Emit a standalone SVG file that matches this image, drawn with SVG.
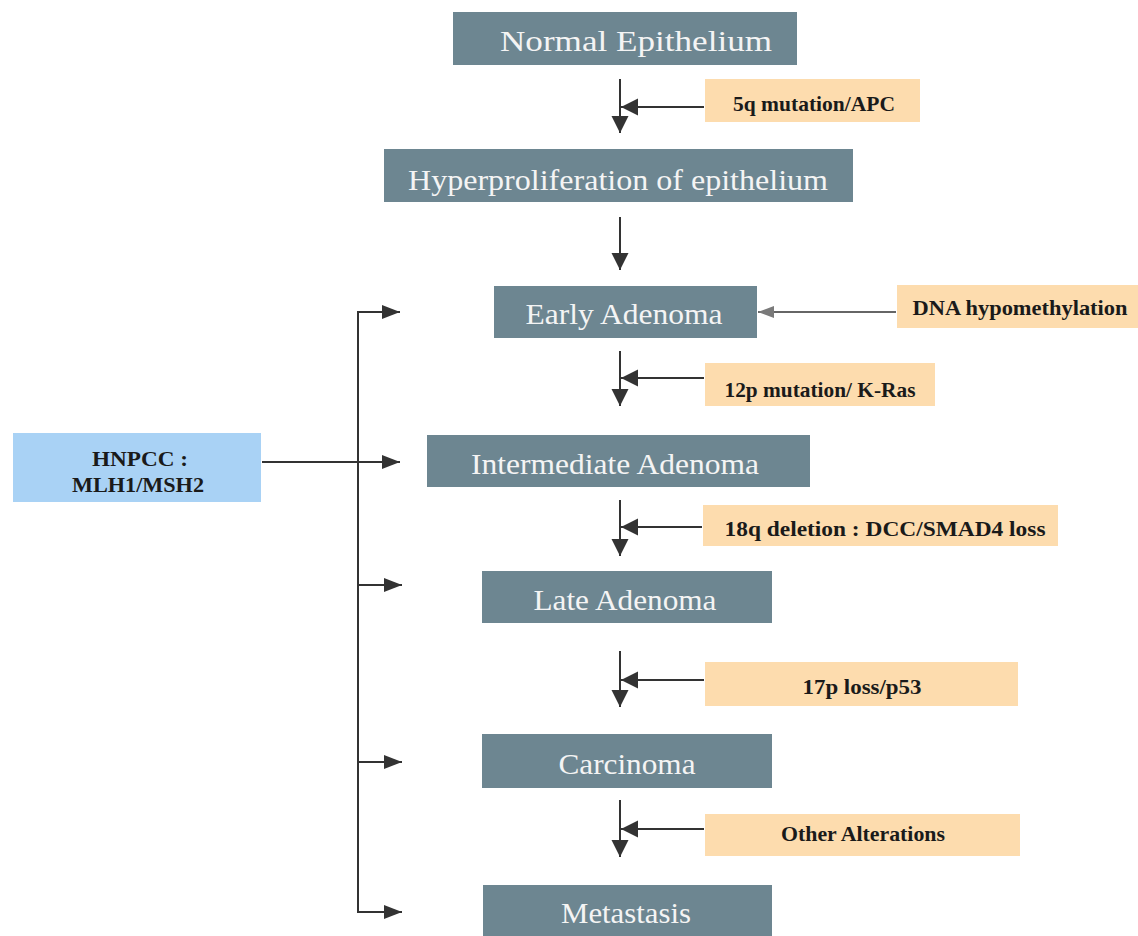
<svg xmlns="http://www.w3.org/2000/svg" width="1138" height="936" viewBox="0 0 1138 936">
<style>
.node rect{fill:#6d8691}
.node text{fill:#f4f4f4;font-family:"Liberation Serif",serif;font-size:30px;text-anchor:middle}
.lab rect{fill:#fddcae}
.lab text{fill:#1a1a1a;font-family:"Liberation Serif",serif;font-size:21px;font-weight:bold;text-anchor:middle}
.hn rect{fill:#a9d2f5}
.hn text{fill:#1a1a1a;font-family:"Liberation Serif",serif;font-size:21px;font-weight:bold;text-anchor:middle}
.ln{stroke:#333;stroke-width:2;fill:none}
</style>
<defs>
<marker id="ah" markerUnits="userSpaceOnUse" markerWidth="18" markerHeight="18" refX="17" refY="8.5" orient="auto" viewBox="0 0 18 18">
<path d="M0,0 L17,8.5 L0,17 z" fill="#333"/>
</marker>
<marker id="ab" markerUnits="userSpaceOnUse" markerWidth="18" markerHeight="14" refX="18" refY="7" orient="auto" viewBox="0 0 18 14">
<path d="M0,0 L18,7 L0,14 z" fill="#333"/>
</marker>
<marker id="ag" markerUnits="userSpaceOnUse" markerWidth="16" markerHeight="14" refX="16" refY="7" orient="auto" viewBox="0 0 16 14">
<path d="M0,1 L16,7 L0,13 z" fill="#7a7a7a"/>
</marker>
</defs>

<g id="n-normal" class="node"><rect x="453" y="12" width="344" height="53"/><text x="636" y="51" textLength="272" lengthAdjust="spacingAndGlyphs">Normal Epithelium</text></g>
<g id="n-hyper" class="node"><rect x="384" y="149" width="469" height="53"/><text x="618" y="190" textLength="420" lengthAdjust="spacingAndGlyphs">Hyperproliferation  of epithelium</text></g>
<g id="n-early" class="node"><rect x="494" y="286" width="263" height="52"/><text x="624" y="324" textLength="197" lengthAdjust="spacingAndGlyphs">Early Adenoma</text></g>
<g id="n-inter" class="node"><rect x="427" y="435" width="383" height="52"/><text x="615" y="474" textLength="288" lengthAdjust="spacingAndGlyphs">Intermediate Adenoma</text></g>
<g id="n-late" class="node"><rect x="482" y="571" width="290" height="52"/><text x="625" y="610" textLength="183" lengthAdjust="spacingAndGlyphs">Late Adenoma</text></g>
<g id="n-carc" class="node"><rect x="482" y="734" width="290" height="54"/><text x="627" y="774" textLength="137" lengthAdjust="spacingAndGlyphs">Carcinoma</text></g>
<g id="n-meta" class="node"><rect x="483" y="885" width="289" height="60"/><text x="626" y="923" textLength="130" lengthAdjust="spacingAndGlyphs">Metastasis</text></g>

<g id="l-5q" class="lab"><rect x="705" y="79" width="215" height="43"/><text x="814" y="111" textLength="162" lengthAdjust="spacingAndGlyphs">5q mutation/APC</text></g>
<g id="l-dna" class="lab"><rect x="897" y="285" width="241" height="43"/><text x="1020" y="315" textLength="215" lengthAdjust="spacingAndGlyphs">DNA hypomethylation</text></g>
<g id="l-12p" class="lab"><rect x="705" y="363" width="230" height="43"/><text x="820" y="397" textLength="191" lengthAdjust="spacingAndGlyphs">12p mutation/ K-Ras</text></g>
<g id="l-18q" class="lab"><rect x="703" y="505" width="355" height="41"/><text x="885" y="536" textLength="321" lengthAdjust="spacingAndGlyphs">18q deletion : DCC/SMAD4 loss</text></g>
<g id="l-17p" class="lab"><rect x="705" y="662" width="313" height="44"/><text x="862" y="694" textLength="119" lengthAdjust="spacingAndGlyphs">17p loss/p53</text></g>
<g id="l-other" class="lab"><rect x="705" y="814" width="315" height="42"/><text x="863" y="841" textLength="164" lengthAdjust="spacingAndGlyphs">Other Alterations</text></g>

<g id="n-hnpcc" class="hn"><rect x="13" y="433" width="248" height="69"/><text x="140" y="466" textLength="96" lengthAdjust="spacingAndGlyphs">HNPCC :</text><text x="138" y="492" textLength="132" lengthAdjust="spacingAndGlyphs">MLH1/MSH2</text></g>

<g id="connectors" class="ln">
<line x1="620" y1="79" x2="620" y2="133" marker-end="url(#ah)"/>
<line x1="704" y1="107" x2="621" y2="107" marker-end="url(#ah)"/>
<line x1="620" y1="217" x2="620" y2="270" marker-end="url(#ah)"/>
<line x1="896" y1="312" x2="758" y2="312" stroke="#666" marker-end="url(#ag)"/>
<line x1="620" y1="351" x2="620" y2="406" marker-end="url(#ah)"/>
<line x1="704" y1="378" x2="621" y2="378" marker-end="url(#ah)"/>
<line x1="620" y1="500" x2="620" y2="556" marker-end="url(#ah)"/>
<line x1="702" y1="527" x2="621" y2="527" marker-end="url(#ah)"/>
<line x1="620" y1="651" x2="620" y2="707" marker-end="url(#ah)"/>
<line x1="704" y1="680" x2="621" y2="680" marker-end="url(#ah)"/>
<line x1="620" y1="800" x2="620" y2="857" marker-end="url(#ah)"/>
<line x1="704" y1="829" x2="621" y2="829" marker-end="url(#ah)"/>
<polyline points="358,312 358,912 402,912" marker-end="url(#ab)"/>
<line x1="357" y1="312" x2="400" y2="312" marker-end="url(#ab)"/>
<line x1="358" y1="585" x2="402" y2="585" marker-end="url(#ab)"/>
<line x1="358" y1="762" x2="402" y2="762" marker-end="url(#ab)"/>
<line x1="262" y1="462" x2="400" y2="462" marker-end="url(#ab)"/>
</g>
</svg>
